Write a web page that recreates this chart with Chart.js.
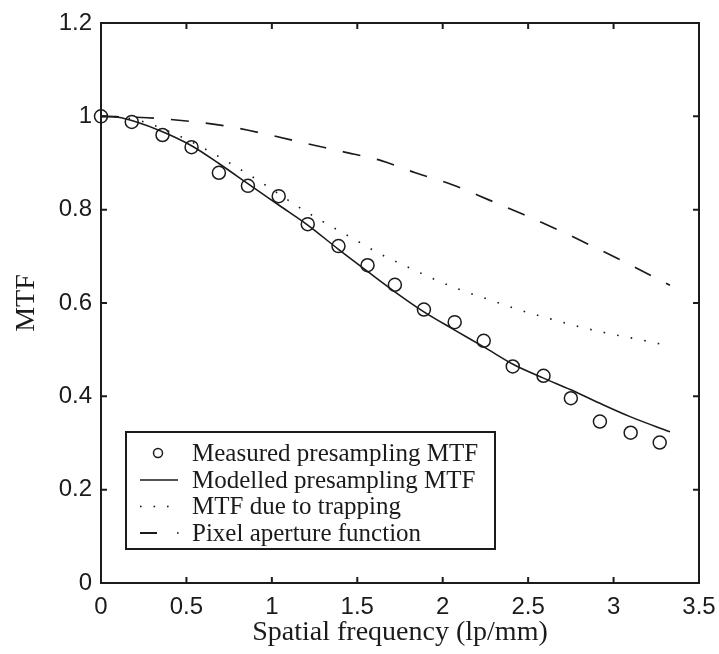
<!DOCTYPE html>
<html>
<head>
<meta charset="utf-8">
<script src="https://cdn.jsdelivr.net/npm/chart.js@4"></script>
<style>
  html, body { margin: 0; padding: 0; background: #fff; }
  canvas { display: block; }
</style>
</head>
<body>
<canvas id="mtfChart" width="719" height="654"></canvas>
<script>
// measured presampling MTF (circles)
const measuredX = [0, 0.18, 0.36, 0.53, 0.69, 0.86, 1.04, 1.21, 1.39, 1.56, 1.72, 1.89, 2.07, 2.24, 2.41, 2.59, 2.75, 2.92, 3.10, 3.27];
const measuredY = [1.0, 0.988, 0.960, 0.934, 0.879, 0.851, 0.829, 0.769, 0.722, 0.681, 0.639, 0.586, 0.559, 0.519, 0.464, 0.444, 0.396, 0.346, 0.322, 0.301];

// modelled presampling MTF (solid)
const modelX = [0, 0.1, 0.19, 0.36, 0.53, 0.69, 0.87, 1.04, 1.21, 1.39, 1.57, 1.72, 1.89, 2.07, 2.24, 2.42, 2.59, 2.75, 2.92, 3.10, 3.33];
const modelY = [1.0, 0.998, 0.99, 0.967, 0.937, 0.899, 0.853, 0.810, 0.767, 0.715, 0.665, 0.624, 0.581, 0.542, 0.506, 0.467, 0.439, 0.414, 0.385, 0.356, 0.324];

// MTF due to trapping (dotted)
const trapX = [0, 0.2, 0.47, 0.63, 0.78, 0.94, 1.16, 1.31, 1.47, 1.63, 1.79, 1.95, 2.12, 2.29, 2.46, 2.63, 2.80, 2.98, 3.16, 3.33];
const trapY = [1.0, 0.993, 0.956, 0.926, 0.894, 0.858, 0.805, 0.772, 0.739, 0.706, 0.678, 0.651, 0.626, 0.605, 0.584, 0.566, 0.549, 0.534, 0.521, 0.508];

// pixel aperture function (dashed)
const apertureX = [0, 0.27, 0.5, 0.75, 0.99, 1.2, 1.42, 1.64, 1.84, 2.06, 2.27, 2.47, 2.68, 2.88, 3.08, 3.33];
const apertureY = [1.0, 0.997, 0.99, 0.978, 0.960, 0.942, 0.924, 0.905, 0.879, 0.853, 0.821, 0.790, 0.756, 0.721, 0.685, 0.638];

const xTickLabels = ['0', '0.5', '1', '1.5', '2', '2.5', '3', '3.5'];
const yTickLabels = ['0', '0.2', '0.4', '0.6', '0.8', '1', '1.2'];
const seriesNames = ['Measured presampling MTF', 'Modelled presampling MTF', 'MTF due to trapping', 'Pixel aperture function'];

const ink = '#1b1b1b';
const sans = '"Liberation Sans", Arial, sans-serif';
const serif = '"Liberation Serif", "Times New Roman", serif';

function toPoints(xs, ys) {
    return xs.map((x, i) => ({ x: x, y: ys[i] }));
}

// frame with inward ticks on all four sides
const framePlugin = {
    id: 'frame',
    afterDatasetsDraw(chart) {
        const { ctx, chartArea: a, scales } = chart;
        ctx.save();
        ctx.strokeStyle = ink;
        ctx.lineWidth = 2;
        ctx.strokeRect(a.left, a.top, a.right - a.left, a.bottom - a.top);
        const len = 6;
        ctx.beginPath();
        for (let i = 1; i < xTickLabels.length - 1; i++) {
            const px = scales.x.getPixelForValue(parseFloat(xTickLabels[i]));
            ctx.moveTo(px, a.bottom); ctx.lineTo(px, a.bottom - len);
            ctx.moveTo(px, a.top); ctx.lineTo(px, a.top + len);
        }
        for (let i = 1; i < yTickLabels.length - 1; i++) {
            const py = scales.y.getPixelForValue(parseFloat(yTickLabels[i]));
            ctx.moveTo(a.left, py); ctx.lineTo(a.left + len, py);
            ctx.moveTo(a.right, py); ctx.lineTo(a.right - len, py);
        }
        ctx.stroke();
        ctx.restore();
    }
};

// boxed legend in the lower left, matlab style
const legendPlugin = {
    id: 'boxLegend',
    afterDraw(chart) {
        const { ctx, chartArea: a } = chart;
        const left = a.left + 25, bottom = a.bottom - 34;
        const w = 369, h = 117;
        const top = bottom - h;
        ctx.save();
        ctx.fillStyle = '#fff';
        ctx.fillRect(left, top, w, h);
        ctx.strokeStyle = ink;
        ctx.lineWidth = 2;
        ctx.strokeRect(left, top, w, h);

        const rowY = [top + 21, top + 48, top + 74.5, top + 101];
        const sx0 = left + 14, sx1 = left + 52;
        ctx.lineWidth = 1.5;

        // circle
        ctx.beginPath();
        ctx.arc((sx0 + sx1) / 2 - 1, rowY[0], 4.5, 0, Math.PI * 2);
        ctx.stroke();
        // solid
        ctx.beginPath();
        ctx.moveTo(sx0, rowY[1]); ctx.lineTo(sx1, rowY[1]);
        ctx.stroke();
        // dotted
        ctx.fillStyle = ink;
        [sx0, sx0 + 13.5, sx0 + 27].forEach(x => ctx.fillRect(x, rowY[2] - 0.8, 1.6, 1.6));
        // dashed
        ctx.lineWidth = 2;
        ctx.beginPath();
        ctx.moveTo(sx0, rowY[3]); ctx.lineTo(sx0 + 17, rowY[3]);
        ctx.stroke();
        ctx.fillRect(sx1 - 1, rowY[3] - 0.8, 1.6, 1.6);

        ctx.fillStyle = ink;
        ctx.font = '25px ' + serif;
        ctx.textAlign = 'left';
        ctx.textBaseline = 'middle';
        seriesNames.forEach((name, i) => ctx.fillText(name, left + 66, rowY[i] + 1));
        ctx.restore();
    }
};

const ctx = document.getElementById('mtfChart').getContext('2d');
const mtfChart = new Chart(ctx, {
    type: 'scatter',
    data: {
        datasets: [
            {
                label: seriesNames[0],
                data: toPoints(measuredX, measuredY),
                showLine: false,
                pointStyle: 'circle',
                pointRadius: 6.5,
                pointBorderWidth: 1.5,
                pointBorderColor: ink,
                pointBackgroundColor: 'rgba(0,0,0,0)',
                clip: false
            },
            {
                label: seriesNames[1],
                data: toPoints(modelX, modelY),
                showLine: true,
                borderColor: ink,
                borderWidth: 1.6,
                pointRadius: 0,
                cubicInterpolationMode: 'monotone'
            },
            {
                label: seriesNames[2],
                data: toPoints(trapX, trapY),
                showLine: true,
                borderColor: ink,
                borderWidth: 1.6,
                borderDash: [1.6, 12.2],
                pointRadius: 0,
                cubicInterpolationMode: 'monotone'
            },
            {
                label: seriesNames[3],
                data: toPoints(apertureX, apertureY),
                showLine: true,
                borderColor: ink,
                borderWidth: 1.7,
                borderDash: [18, 17],
                pointRadius: 0,
                cubicInterpolationMode: 'monotone'
            }
        ]
    },
    options: {
        responsive: false,
        animation: false,
        devicePixelRatio: 1,
        layout: { padding: { top: 23, right: 20, left: 0, bottom: 0 } },
        plugins: {
            legend: { display: false },
            tooltip: { enabled: false }
        },
        scales: {
            x: {
                type: 'linear',
                min: 0,
                max: 3.5,
                grid: { display: false, drawTicks: false },
                border: { display: false },
                ticks: {
                    stepSize: 0.5,
                    padding: 10,
                    color: ink,
                    font: { family: sans, size: 24 },
                    callback: (v, i) => xTickLabels[i]
                },
                title: {
                    display: true,
                    text: 'Spatial frequency (lp/mm)',
                    color: ink,
                    font: { family: serif, size: 28, lineHeight: 1 },
                    padding: { top: 0, bottom: 7 }
                },
                afterFit: scale => {
                    scale.height = 71;
                    scale.paddingLeft = 0;
                    scale.paddingRight = 0;
                }
            },
            y: {
                type: 'linear',
                min: 0,
                max: 1.2,
                grid: { display: false, drawTicks: false },
                border: { display: false },
                ticks: {
                    stepSize: 0.2,
                    padding: 9,
                    color: ink,
                    font: { family: sans, size: 24 },
                    callback: (v, i) => yTickLabels[i]
                },
                title: {
                    display: true,
                    text: 'MTF',
                    color: ink,
                    font: { family: serif, size: 28, lineHeight: 1 },
                    padding: { top: 13, bottom: 0 }
                },
                afterFit: scale => {
                    scale.width = 101;
                    scale.paddingTop = 0;
                    scale.paddingBottom = 0;
                }
            }
        }
    },
    plugins: [framePlugin, legendPlugin]
});
</script>
</body>
</html>
